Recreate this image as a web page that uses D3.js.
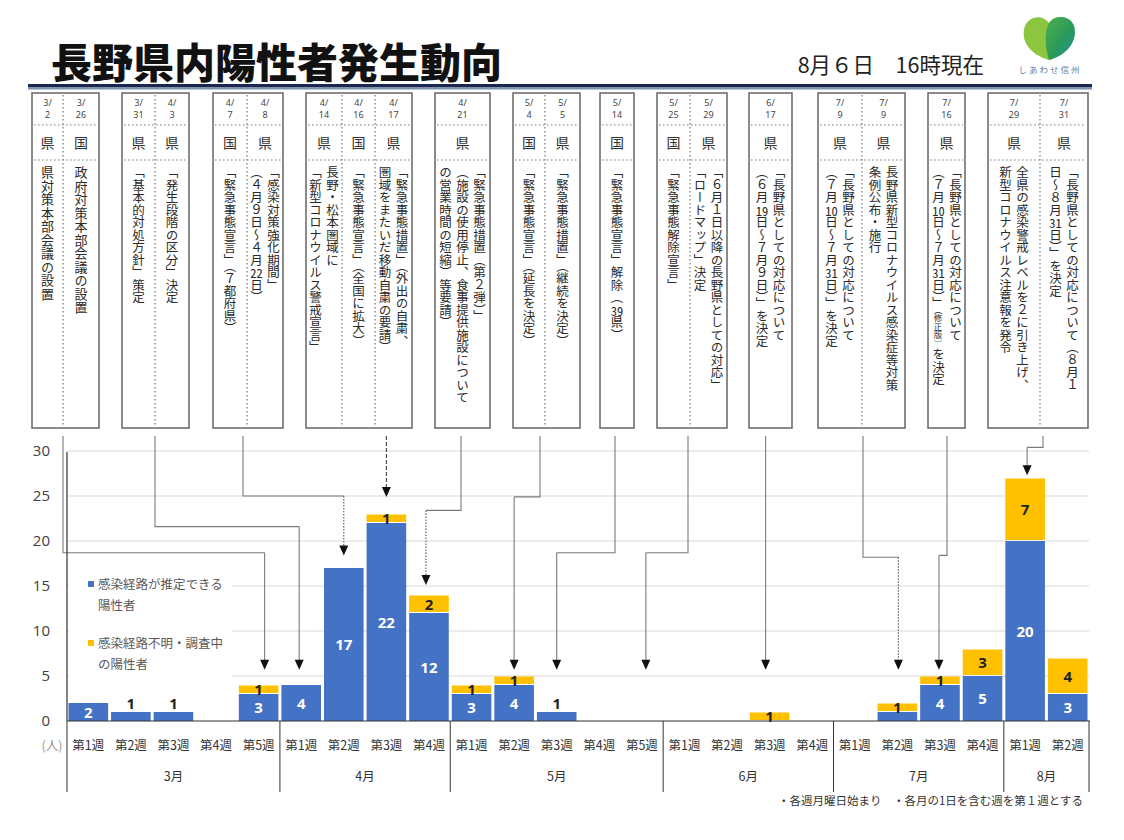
<!DOCTYPE html>
<html><head><meta charset="utf-8">
<script src="https://cdn.jsdelivr.net/npm/d3@7"></script>
<style>
body{margin:0;background:#fff;}
#wrap{position:relative;width:1124px;height:840px;overflow:hidden;font-family:"Noto Sans CJK JP","Noto Sans",sans-serif;background:#fff;}
#wrap svg{position:absolute;left:0;top:0;}
.vcol{position:absolute;display:flex;justify-content:center;}
.vtext{writing-mode:vertical-rl;text-orientation:mixed;font-size:12.5px;line-height:17px;color:#2a2a2a;white-space:nowrap;font-family:"Noto Sans CJK JP",sans-serif;}
.big .vtext{font-size:13px;letter-spacing:0.5px;}
.tcy{text-combine-upright:all;}
.small{font-size:8.5px;}
</style></head><body><div id="wrap"></div>
<script>
// ---------------- DATA ----------------
const months = ["3月","4月","5月","6月","7月","8月"];
const weeksInMonth = [5,4,5,4,4,2];
const weekLabels = ["第1週","第2週","第3週","第4週","第5週",
                    "第1週","第2週","第3週","第4週",
                    "第1週","第2週","第3週","第4週","第5週",
                    "第1週","第2週","第3週","第4週",
                    "第1週","第2週","第3週","第4週",
                    "第1週","第2週"];
const categories = ["3-1","3-2","3-3","3-4","3-5","4-1","4-2","4-3","4-4","5-1","5-2","5-3","5-4","5-5",
                    "6-1","6-2","6-3","6-4","7-1","7-2","7-3","7-4","8-1","8-2"];
const knownRoute   = [2,1,1,0,3, 4,17,22,12, 3,4,1,0,0, 0,0,0,0, 0,1,4,5, 20,3];
const unknownRoute = [0,0,0,0,1, 0,0,1,2,  1,1,0,0,0, 0,0,1,0, 0,1,1,3, 7,4];
const yTicks = [0,5,10,15,20,25,30];
const seriesNames = [["感染経路が推定できる","陽性者"],["感染経路不明・調査中","の陽性者"]];

const eventDates = [["3/2","3/26"],["3/31","4/3"],["4/7","4/8"],["4/14","4/16","4/17"],["4/21"],["5/4","5/5"],
                    ["5/14"],["5/25","5/29"],["6/17"],["7/9","7/9"],["7/16"],["7/29","7/31"]];
const eventWho = [["県","国"],["県","県"],["国","県"],["県","国","県"],["県"],["国","県"],["国"],["国","県"],["県"],["県","県"],["県"],["県","県"]];
const eventTexts = [
  [["県対策本部会議の設置"],["政府対策本部会議の設置"]],
  [["「基本的対処方針」策定"],["「発生段階の区分」決定"]],
  [["「緊急事態宣言」（７都府県）"],["「感染対策強化期間」","（４月９日～４月22日）"]],
  [["長野・松本圏域に","「新型コロナウイルス警戒宣言」"],["「緊急事態宣言」（全国に拡大）"],["「緊急事態措置」（外出の自粛、","圏域をまたいだ移動自粛の要請）"]],
  [["「緊急事態措置（第２弾）」","（施設の使用停止、食事提供施設について","の営業時間の短縮）等要請）"]],
  [["「緊急事態宣言」（延長を決定）"],["「緊急事態措置」（継続を決定）"]],
  [["「緊急事態宣言」解除（39県）"]],
  [["「緊急事態解除宣言」"],["「６月１日以降の長野県としての対応」","「ロードマップ」決定"]],
  [["「長野県としての対応について","（６月19日～７月９日）」を決定"]],
  [["「長野県としての対応について","（７月10日～７月31日）」を決定"],["長野県新型コロナウイルス感染症等対策","条例公布・施行"]],
  [["「長野県としての対応について","（７月10日～７月31日）」（修正版）を決定"]],
  [["全県の感染警戒レベルを２に引き上げ、","新型コロナウイルス注意報を発令"],["「長野県としての対応について（８月１","日～８月31日）」を決定"]]
];
// connectors: event box anchor -> week category, elbow / tip in chart units (人)
const connTarget = ["3-5","4-1","4-2","4-3","4-4","5-2","5-3","5-5","6-3","7-2","7-3","8-1"];
const connElbow  = [18.7,21.6,25.0,null,23.4,24.9,18.7,18.7,null,18.2,18.4,30.4];
const connTip    = [5.7,5.7,18.4,24.9,15.1,5.7,5.7,5.7,5.7,5.7,5.7,27.3];
const connStyle  = ["solid","solid","dotlow","dashed","dotlow","solid","solid","solid","solid","dotlow","solid","solid"];

// ---------------- LAYOUT ----------------
const W=1124,H=840;
const boxEdges = [[32,63,99],[122,155,189],[213,247,283],[306,342,375,412],[435,490],[513,545,580],
                  [600,634],[657,690,727],[749,792],[818,862,905],[928,965],[988,1040,1088]];
const boxTop=93, boxBot=428, sep1=125, sep2=160;
const connStartX = [63,155,243,386,461,540,615,688,765,863,947,1043];
const connOffset = [6,-2,0,0,-3,0,0,4,-4,1,-1,2];

const wrap = d3.select("#wrap");
const svg = wrap.append("svg").attr("width",W).attr("height",H);

// title
svg.append("text").attr("x",51).attr("y",78).attr("font-size",41).attr("font-weight",900)
  .attr("fill","#111").attr("font-family","'Noto Sans CJK JP',sans-serif").text("長野県内陽性者発生動向");
svg.append("text").attr("x",984).attr("y",73).attr("text-anchor","end").attr("font-size",21.5)
  .attr("fill","#222").attr("font-family","'Noto Sans CJK JP',sans-serif").text("8月６日　16時現在");
svg.append("rect").attr("x",28).attr("y",84).attr("width",1064).attr("height",3.5).attr("fill","#1a2850");
svg.append("rect").attr("x",28).attr("y",87.5).attr("width",1064).attr("height",2).attr("fill","#7d91b4");

// logo
const defs = svg.append("defs");
const lg = defs.append("linearGradient").attr("id","lg").attr("x1","0").attr("y1","0").attr("x2","1").attr("y2","1");
lg.append("stop").attr("offset","0%").attr("stop-color","#4bb04a");
lg.append("stop").attr("offset","55%").attr("stop-color","#2a9a5a");
lg.append("stop").attr("offset","100%").attr("stop-color","#1b8fa0");
svg.append("path").attr("d","M1049,60 C1029,54 1020,40 1025,26 C1029,16 1043,14 1049,23 C1055,14 1070,15 1074,26 C1078,41 1067,55 1049,60 Z").attr("fill","#8cc63e");
svg.append("path").attr("d","M1049,60 C1045,47 1044,32 1049,23 C1055,14 1070,15 1074,26 C1078,41 1067,55 1049,60 Z").attr("fill","url(#lg)");
svg.append("text").attr("x",1050).attr("y",73).attr("text-anchor","middle").attr("font-size",8.5)
  .attr("letter-spacing",2).attr("fill","#5f7f9f").attr("font-family","'Noto Sans CJK JP',sans-serif").text("しあわせ信州");

// event boxes
const tcy = s => s.replace(/（修正版）/,'<span class="small">（修正版）</span>').replace(/(\d{2})/g,'<span class="tcy">$1</span>');
boxEdges.forEach((edges,bi)=>{
  const x0=edges[0], x1=edges[edges.length-1];
  svg.append("rect").attr("x",x0).attr("y",boxTop).attr("width",x1-x0).attr("height",boxBot-boxTop)
    .attr("fill","none").attr("stroke","#6f6f6f").attr("stroke-width",1.6);
  [sep1,sep2].forEach(sy=>svg.append("line").attr("x1",x0+2).attr("x2",x1-2).attr("y1",sy).attr("y2",sy)
    .attr("stroke","#777").attr("stroke-width",1.2).attr("stroke-dasharray","1.5,2.5"));
  for(let c=1;c<edges.length-1;c++){
    svg.append("line").attr("x1",edges[c]).attr("x2",edges[c]).attr("y1",boxTop+2).attr("y2",boxBot-2)
      .attr("stroke","#777").attr("stroke-width",1.2).attr("stroke-dasharray","1.5,2.5");
  }
  for(let c=0;c<edges.length-1;c++){
    const cx=(edges[c]+edges[c+1])/2;
    const parts = eventDates[bi][c].split("/");
    const dt = svg.append("text").attr("text-anchor","middle").attr("font-size",9).attr("fill","#444")
      .attr("font-family","'Noto Sans',sans-serif");
    dt.append("tspan").attr("x",cx).attr("y",106).text(parts[0]+"/");
    dt.append("tspan").attr("x",cx).attr("y",118).text(parts[1]);
    svg.append("text").attr("x",cx).attr("y",148).attr("text-anchor","middle").attr("font-size",14)
      .attr("fill","#333").attr("font-family","'Noto Sans CJK JP',sans-serif").text(eventWho[bi][c]);
    wrap.append("div").attr("class","vcol"+(bi===0?" big":""))
      .style("left",edges[c]+"px").style("top","166px").style("width",(edges[c+1]-edges[c])+"px").style("height",(boxBot-170)+"px")
      .append("div").attr("class","vtext").html(eventTexts[bi][c].map(tcy).join("<br>"));
  }
});

// ---------------- CHART ----------------
const x = d3.scaleBand().domain(categories).range([67,1089]).paddingInner(0.07).paddingOuter(0.035);
const y = d3.scaleLinear().domain([0,30]).range([721,451]);
const step = x.step();
const cellLeft = i => x.range()[0] + i*step;

// gridlines
svg.append("g").selectAll("line").data(yTicks.filter(d=>d>0)).join("line")
  .attr("x1",67).attr("x2",1089).attr("y1",d=>y(d)).attr("y2",d=>y(d)).attr("stroke","#d9d9d9").attr("stroke-width",1);
// y labels
svg.append("g").selectAll("text").data(yTicks).join("text")
  .attr("x",50).attr("y",d=>y(d)+5).attr("text-anchor","end").attr("font-size",15).attr("fill","#404040")
  .attr("font-family","'Open Sans','Noto Sans',sans-serif").text(d=>d);
svg.append("text").attr("x",52).attr("y",750).attr("text-anchor","middle").attr("font-size",12.5).attr("fill","#999")
  .attr("font-family","'Noto Sans CJK JP',sans-serif").text("(人)");

// legend background (covers gridlines)
svg.append("rect").attr("x",69).attr("y",566).attr("width",163).attr("height",116).attr("fill","#fff");
const legColors = ["#4472C4","#FFC000"];
const legY = [584,643];
seriesNames.forEach((nm,i)=>{
  svg.append("rect").attr("x",88).attr("y",legY[i]-3).attr("width",6).attr("height",6).attr("fill",legColors[i]);
  nm.forEach((t,j)=>svg.append("text").attr("x",98).attr("y",legY[i]+4.5+j*21).attr("font-size",12.5).attr("fill","#595959")
    .attr("font-family","'Noto Sans CJK JP',sans-serif").text(t));
});

// connectors
connTarget.forEach((t,i)=>{
  const sx=connStartX[i], tx=x(t)+x.bandwidth()/2+connOffset[i], ty=y(connTip[i]);
  const st=connStyle[i];
  const col="#7a7a7a";
  const dashAll = st==="dashed" ? "4,2" : null;
  const g=svg.append("g").attr("fill","none").attr("stroke",col).attr("stroke-width",1.1);
  if(connElbow[i]===null){
    g.append("line").attr("x1",tx).attr("x2",tx).attr("y1",436).attr("y2",ty-9).attr("stroke-dasharray",dashAll).attr("stroke",st==="dashed"?"#444":col);
  } else {
    const ey=y(connElbow[i]);
    g.append("path").attr("d",`M${sx},436 V${ey} H${tx}`);
    g.append("line").attr("x1",tx).attr("x2",tx).attr("y1",ey).attr("y2",ty-9)
      .attr("stroke-dasharray",st==="dotlow"?"1.5,1.5":null).attr("stroke",st==="dotlow"?"#555":col);
  }
  svg.append("path").attr("d",`M${tx-4.5},${ty-10} L${tx+4.5},${ty-10} L${tx},${ty} Z`).attr("fill","#111");
});

// bars
const stack = categories.map((c,i)=>({c, k:knownRoute[i], u:unknownRoute[i]}));
const bars = svg.append("g");
bars.selectAll("rect.k").data(stack.filter(d=>d.k>0)).join("rect").attr("class","k")
  .attr("x",d=>x(d.c)).attr("width",x.bandwidth()).attr("y",d=>y(d.k)).attr("height",d=>y(0)-y(d.k))
  .attr("fill","#4472C4");
bars.selectAll("rect.u").data(stack.filter(d=>d.u>0)).join("rect").attr("class","u")
  .attr("x",d=>x(d.c)).attr("width",x.bandwidth()).attr("y",d=>y(d.k+d.u)+0.5).attr("height",d=>y(d.k)-y(d.k+d.u)-1.5)
  .attr("fill","#FFC000");
// labels
const lab = svg.append("g").attr("font-family","'Noto Sans','Open Sans',sans-serif").attr("font-weight",700).attr("font-size",15).attr("text-anchor","middle");
stack.forEach(d=>{
  const cx=x(d.c)+x.bandwidth()/2;
  if(d.k>=2) lab.append("text").attr("x",cx).attr("y",y(d.k/2)+5.5).attr("fill","#fff").text(d.k);
  else if(d.k===1 && d.u===0) lab.append("text").attr("x",cx).attr("y",y(1)-3.5).attr("fill","#222").text(d.k);
  if(d.u>0) lab.append("text").attr("x",cx).attr("y",y(d.k+d.u/2)+5.5).attr("fill","#222").text(d.u);
});

// axes lines
svg.append("line").attr("x1",67).attr("x2",67).attr("y1",452).attr("y2",721).attr("stroke","#333").attr("stroke-width",1.2);
svg.append("line").attr("x1",67).attr("x2",1090).attr("y1",721).attr("y2",721).attr("stroke","#333").attr("stroke-width",1.2);
// week labels
svg.append("g").selectAll("text").data(categories).join("text")
  .attr("x",d=>x(d)+x.bandwidth()/2).attr("y",750).attr("text-anchor","middle").attr("font-size",12.5).attr("fill","#333")
  .attr("font-family","'Noto Sans CJK JP',sans-serif").text((d,i)=>weekLabels[i]);
// month separators & labels
let idx=0;
const bounds=[0];
weeksInMonth.forEach(n=>{idx+=n;bounds.push(idx);});
bounds.forEach(b=>svg.append("line").attr("x1",cellLeft(b)).attr("x2",cellLeft(b)).attr("y1",721).attr("y2",792).attr("stroke","#333").attr("stroke-width",1));
months.forEach((m,i)=>svg.append("text").attr("x",(cellLeft(bounds[i])+cellLeft(bounds[i+1]))/2).attr("y",781)
  .attr("text-anchor","middle").attr("font-size",12.5).attr("fill","#333").attr("font-family","'Noto Sans CJK JP',sans-serif").text(m));
// footnote
svg.append("text").attr("x",1083).attr("y",805).attr("text-anchor","end").attr("font-size",11.5).attr("fill","#333")
  .attr("font-family","'Noto Sans CJK JP',sans-serif").text("・各週月曜日始まり　・各月の1日を含む週を第１週とする");
</script></body></html>
